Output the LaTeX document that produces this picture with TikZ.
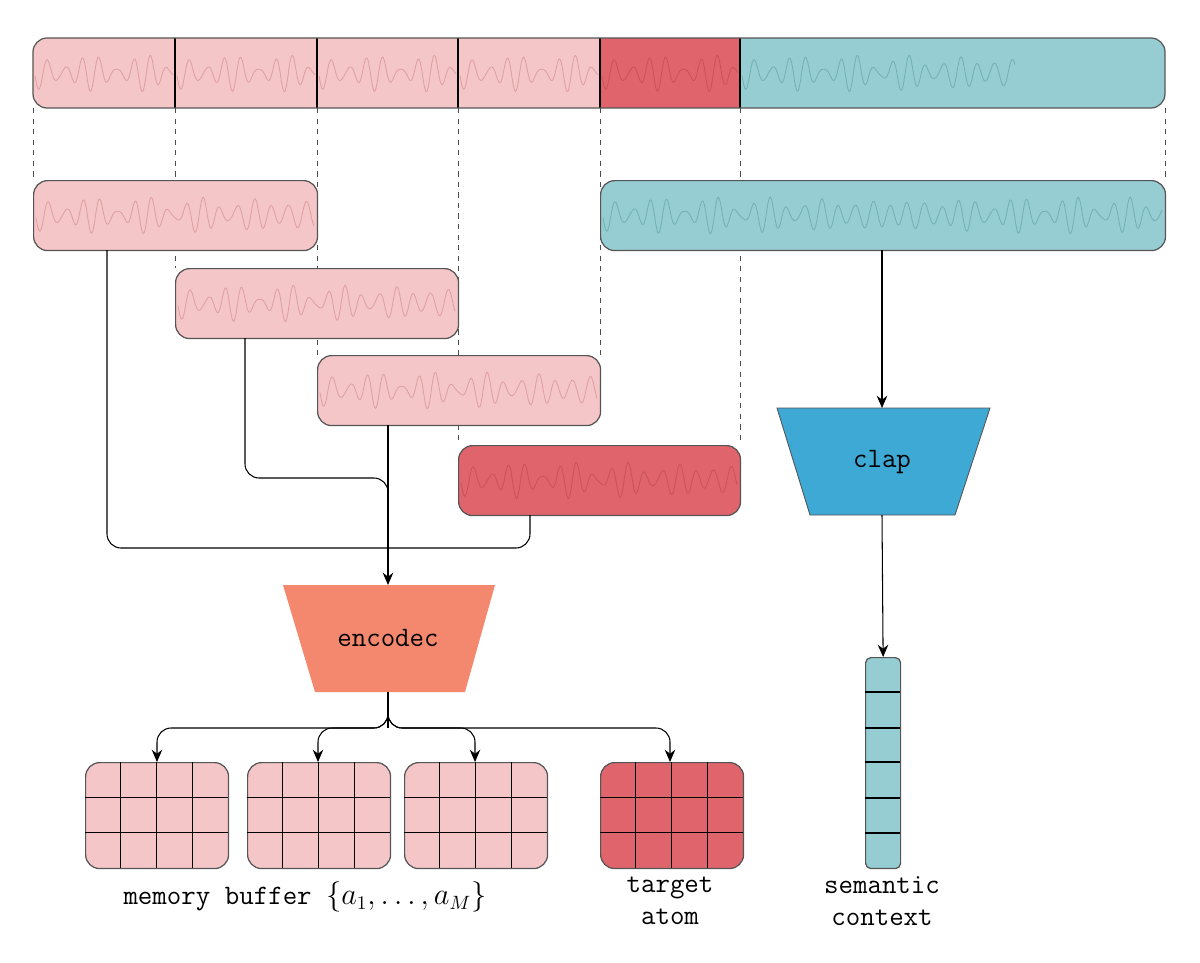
\documentclass[tikz,border=0pt]{standalone}
\usetikzlibrary{arrows.meta}
\definecolor{pk}{HTML}{F5C6C7}
\definecolor{pkw}{HTML}{DFA0A3}
\definecolor{rd}{HTML}{E0646B}
\definecolor{rdw}{HTML}{C8545A}
\definecolor{tl}{HTML}{96CDD2}
\definecolor{tlw}{HTML}{73B1B6}
\definecolor{enc}{HTML}{F4886E}
\definecolor{clp}{HTML}{3DA9D4}
\definecolor{edge}{HTML}{555555}
\newcommand{\mywave}[5]{\draw[#4,line width=0.5pt] plot[domain=0:#2-#1,samples=#5,smooth] ({#1+\x},{#3+16*sin(21*\x)*(0.7+0.3*sin(7*\x+40))+3*sin(27*\x+60)});}
\begin{document}
\begin{tikzpicture}[x=0.02cm,y=-0.02cm,
  seg/.style={draw=edge,line width=0.7pt,rounded corners=8pt,anchor=north west,inner sep=0pt},
  guide/.style={dashed,line width=0.5pt,draw=black!70},
  conn/.style={line width=0.6pt,draw=black,rounded corners=8pt},
  arr/.style={conn,-{Stealth[length=7pt,width=6pt]}},
  lab/.style={font=\fontsize{16}{18}\selectfont\ttfamily,align=center}]
\useasboundingbox (0,0) rectangle (1200,963);
% dashed guides
\coordinate (g1) at (33,108); \coordinate (g2) at (175,108); \coordinate (g3) at (317,108);
\coordinate (g4) at (458,108); \coordinate (g5) at (600,108); \coordinate (g6) at (740,108); \coordinate (g7) at (1165,108);
\draw[guide] (g1) -- (33,180);
\draw[guide] (g2) -- (175,268);
\draw[guide] (g3) -- (317,355);
\draw[guide] (g4) -- (458,445);
\draw[guide] (g5) -- (600,355);
\draw[guide] (g6) -- (740,445);
\draw[guide] (g7) -- (1165,180);
% top strip
\begin{scope}
\clip[rounded corners=8pt] (33,38) rectangle (1165,108);
\fill[pk] (33,38) rectangle (600,108);
\fill[rd] (600,38) rectangle (740,108);
\fill[tl] (740,38) rectangle (1165,108);
\mywave{35}{173}{73}{pkw}{200}
\mywave{177}{315}{73}{pkw}{200}
\mywave{319}{456}{73}{pkw}{200}
\mywave{460}{598}{73}{pkw}{200}
\mywave{602}{738}{73}{rdw}{200}
\mywave{742}{1015}{73}{tlw}{400}
\end{scope}
\foreach \xx in {175,317,458,600,740} \draw[line width=0.8pt] (\xx,38) -- (\xx,108);
\draw[edge,line width=0.7pt,rounded corners=8pt] (33,38) rectangle (1165,108);
\node[inner sep=0pt] (strip) at (599,73) {};
% boxes
\node[seg,fill=pk,minimum width=5.68cm,minimum height=1.4cm] (b1) at (33,180) {};
\node[seg,fill=pk,minimum width=5.66cm,minimum height=1.4cm] (b2) at (175,268) {};
\node[seg,fill=pk,minimum width=5.66cm,minimum height=1.4cm] (b3) at (317,355) {};
\node[seg,fill=rd,minimum width=5.64cm,minimum height=1.4cm] (b4) at (458,445) {};
\node[seg,fill=tl,minimum width=11.3cm,minimum height=1.4cm] (bt) at (600,180) {};
\mywave{36}{314}{215}{pkw}{400}
\mywave{178}{455}{303}{pkw}{400}
\mywave{320}{597}{390}{pkw}{400}
\mywave{461}{737}{480}{rdw}{400}
\mywave{603}{1162}{215}{tlw}{800}
% encodec
\filldraw[fill=enc,draw=none] (283,585) -- (495,585) -- (465,692) -- (315,692) -- cycle;
\node[lab] (enc) at (388,638) {encodec};
\coordinate (encT) at (388,585); \coordinate (encB) at (388,692);
% clap
\filldraw[fill=clp,draw=edge,line width=0.5pt] (777,408) -- (990,408) -- (955,515) -- (810,515) -- cycle;
\node[lab] (clap) at (882,462) {clap};
\coordinate (clapT) at (882,408); \coordinate (clapB) at (882,515);
% connectors to encodec
\draw[conn] (107,250) -- (107,548) -- (388,548);
\draw[conn] (245,338) -- (245,478) -- (388,478) -- (388,548);
\draw[conn] (530,515) -- (530,548) -- (388,548);
\draw[arr] (388,425) -- (encT);
\draw[arr] (882,250) -- (clapT);
% column
\node[draw=edge,fill=tl,line width=0.7pt,rounded corners=3pt,anchor=north west,inner sep=0pt,minimum width=0.7cm,minimum height=4.22cm] (col) at (865,657) {};
\foreach \yy in {692,728,762,798,833} \draw[line width=0.7pt] (865,\yy) -- (900,\yy);
\draw[arr] (clapB) -- (col.north);
% grids
\foreach \gx/\gc/\nm in {85/pk/m1,247/pk/m2,404/pk/m3,600/rd/m4}{
  \node[draw=edge,fill=\gc,line width=0.7pt,rounded corners=8pt,anchor=north west,inner sep=0pt,minimum width=2.86cm,minimum height=2.12cm] (\nm) at (\gx,762) {};
  \foreach \i in {1,2,3} \draw[line width=0.7pt] (\gx+\i*35.75,762) -- (\gx+\i*35.75,868);
  \foreach \j in {1,2} \draw[line width=0.7pt] (\gx,762+\j*35.3) -- (\gx+143,762+\j*35.3);
}
\draw[conn] (encB) -- (388,728);
\draw[arr] (388,712) -- (388,728) -- (157,728) -- (157,762);
\draw[arr] (388,712) -- (388,728) -- (318,728) -- (318,762);
\draw[arr] (388,712) -- (388,728) -- (475,728) -- (475,762);
\draw[arr] (388,712) -- (388,728) -- (670,728) -- (670,762);
% labels
\node[lab] (l1) at (305,897) {memory buffer $\{a_1,\ldots,a_M\}$};
\node[lab] (l2) at (670,901) {target\\atom};
\node[lab] (l3) at (882,901) {semantic\\context};
\end{tikzpicture}
\end{document}
